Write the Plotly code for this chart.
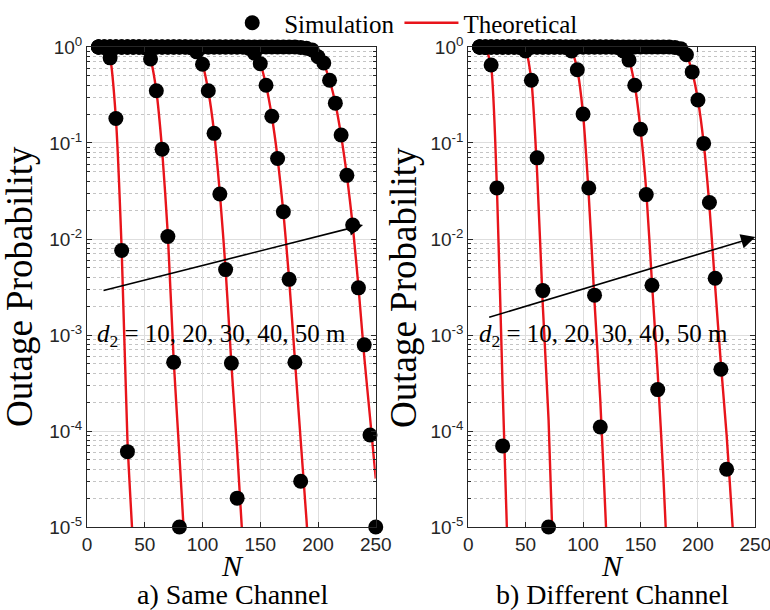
import plotly.graph_objects as go

# ---------------- data: a) Same Channel ----------------
a_sim_N = [
    [10, 15, 20, 25, 30, 35],
    [10, 15, 20, 25, 30, 35, 40, 45, 50, 55, 60, 65, 70, 75, 80],
    [10, 15, 20, 25, 30, 35, 40, 45, 50, 55, 60, 65, 70, 75, 80, 85, 90,
     95, 100, 105, 110, 115, 120, 125, 130],
    [10, 15, 20, 25, 30, 35, 40, 45, 50, 55, 60, 65, 70, 75, 80, 85, 90,
     95, 100, 105, 110, 115, 120, 125, 130, 135, 140,
     145, 150, 155, 160, 165, 170, 175, 180, 185],
    [10, 15, 20, 25, 30, 35, 40, 45, 50, 55, 60, 65, 70, 75, 80, 85, 90,
     95, 100, 105, 110, 115, 120, 125, 130, 135, 140, 145, 150, 155, 160,
     165, 170, 175, 180, 185, 190, 195,
     200, 205, 210, 215, 220, 225, 230, 235, 240, 245, 250],
]
a_sim_P = [
    [1.0, 0.99, 0.77, 0.18, 0.0076, 6.1e-5],
    [1.0, 1.0, 1.0, 1.0, 1.0, 1.0, 1.0, 1.0, 0.98,
     0.75, 0.35, 0.086, 0.0106, 5.2e-4, 1.0e-5],
    [1.0, 1.0, 1.0, 1.0, 1.0, 1.0, 1.0, 1.0, 1.0, 1.0, 1.0, 1.0, 1.0, 1.0,
     1.0, 1.0, 0.98,
     0.89, 0.66, 0.35, 0.126, 0.0294, 0.0048, 5.1e-4, 2.0e-5],
    [1.0, 1.0, 1.0, 1.0, 1.0, 1.0, 1.0, 1.0, 1.0, 1.0, 1.0, 1.0, 1.0, 1.0,
     1.0, 1.0, 1.0, 1.0, 1.0, 1.0, 1.0, 1.0, 1.0, 1.0, 1.0, 1.0, 0.97,
     0.86, 0.67, 0.40, 0.19, 0.069, 0.0192, 0.0038, 5.2e-4, 3.0e-5],
    [1.0, 1.0, 1.0, 1.0, 1.0, 1.0, 1.0, 1.0, 1.0, 1.0, 1.0, 1.0, 1.0, 1.0,
     1.0, 1.0, 1.0, 1.0, 1.0, 1.0, 1.0, 1.0, 1.0, 1.0, 1.0, 1.0, 1.0, 1.0,
     1.0, 1.0, 1.0, 1.0, 1.0, 1.0, 1.0, 0.99, 0.97, 0.93,
     0.79, 0.68, 0.45, 0.26, 0.121, 0.046, 0.014, 0.0031, 7.9e-4, 9.1e-5, 1.0e-5],
]
a_th_N = [
    [10, 15, 20, 25, 30, 35, 40],
    [45, 50, 55, 60, 65, 70, 75, 80, 85],
    [85, 90, 95, 100, 105, 110, 115, 120, 125, 130, 135],
    [135, 140, 145, 150, 155, 160, 165, 170, 175, 180, 185, 190, 195],
    [185, 190, 195, 200, 205, 210, 215, 220, 225, 230, 235, 240, 245, 250],
]
a_th_P = [
    [1.0, 0.99, 0.76, 0.18, 0.0078, 8.0e-5, 6.0e-6],
    [1.0, 0.98, 0.74, 0.35, 0.085, 0.011, 5.6e-4, 5.6e-5, 5.0e-6],
    [1.0, 0.98, 0.88, 0.66, 0.35, 0.13, 0.030, 0.0048, 5.0e-4, 6.3e-5, 6.3e-6],
    [1.0, 0.97, 0.86, 0.67, 0.40, 0.19, 0.070, 0.019, 0.0038, 5.5e-4, 8.0e-5, 1.2e-5, 1.5e-6],
    [0.99, 0.97, 0.94, 0.80, 0.66, 0.45, 0.26, 0.12, 0.046, 0.014, 0.0032, 6.0e-4, 1.4e-4, 3.2e-5],
]

# ---------------- data: b) Different Channel ----------------
b_sim_N = [
    [10, 15, 20, 25, 30],
    [10, 15, 20, 25, 30, 35, 40, 45, 50, 55, 60, 65, 70],
    [10, 15, 20, 25, 30, 35, 40, 45, 50, 55, 60, 65, 70, 75, 80, 85,
     90, 95, 100, 105, 110, 115],
    [10, 15, 20, 25, 30, 35, 40, 45, 50, 55, 60, 65, 70, 75, 80, 85,
     90, 95, 100, 105, 110, 115, 120, 125, 130, 135,
     140, 145, 150, 155, 160, 165],
    [10, 15, 20, 25, 30, 35, 40, 45, 50, 55, 60, 65, 70, 75, 80, 85,
     90, 95, 100, 105, 110, 115, 120, 125, 130, 135, 140, 145, 150, 155,
     160, 165, 170, 175, 180, 185,
     190, 195, 200, 205, 210, 215, 220, 225],
]
b_sim_P = [
    [1.0, 0.99, 0.65, 0.034, 7.0e-5],
    [1.0, 1.0, 1.0, 1.0, 1.0, 1.0, 1.0, 0.99,
     0.91, 0.45, 0.070, 0.0029, 1.0e-5],
    [1.0, 1.0, 1.0, 1.0, 1.0, 1.0, 1.0, 1.0, 1.0, 1.0, 1.0, 1.0, 1.0, 1.0,
     1.0, 0.99,
     0.91, 0.58, 0.20, 0.034, 0.0026, 1.1e-4],
    [1.0, 1.0, 1.0, 1.0, 1.0, 1.0, 1.0, 1.0, 1.0, 1.0, 1.0, 1.0, 1.0, 1.0,
     1.0, 1.0, 1.0, 1.0, 1.0, 1.0, 1.0, 1.0, 1.0, 1.0, 0.99, 0.91,
     0.73, 0.40, 0.139, 0.029, 0.0033, 2.7e-4],
    [1.0, 1.0, 1.0, 1.0, 1.0, 1.0, 1.0, 1.0, 1.0, 1.0, 1.0, 1.0, 1.0, 1.0,
     1.0, 1.0, 1.0, 1.0, 1.0, 1.0, 1.0, 1.0, 1.0, 1.0, 1.0, 1.0, 1.0, 1.0,
     1.0, 1.0, 1.0, 1.0, 1.0, 1.0, 0.99, 0.96,
     0.83, 0.55, 0.28, 0.099, 0.024, 0.0039, 4.4e-4, 4.0e-5],
]
b_th_N = [
    [10, 15, 20, 25, 30, 35],
    [40, 45, 50, 55, 60, 65, 70, 75],
    [80, 85, 90, 95, 100, 105, 110, 115, 120, 125],
    [125, 130, 135, 140, 145, 150, 155, 160, 165, 170, 175],
    [175, 180, 185, 190, 195, 200, 205, 210, 215, 220, 225, 230, 235],
]
b_th_P = [
    [1.0, 0.98, 0.62, 0.035, 2.8e-4, 3.0e-6],
    [1.0, 0.99, 0.92, 0.45, 0.05, 0.002, 1.3e-4, 2.0e-6],
    [1.0, 0.99, 0.92, 0.58, 0.20, 0.028, 0.0022, 2.1e-4, 1.0e-5, 5.0e-7],
    [1.0, 0.99, 0.93, 0.73, 0.40, 0.14, 0.032, 0.0035, 4.0e-4, 3.2e-5, 1.6e-6],
    [1.0, 0.995, 0.97, 0.83, 0.55, 0.28, 0.10, 0.022, 0.0032, 5.0e-4, 9.0e-5, 1.1e-5, 1.2e-6],
]

ytick_vals = [1, 1e-1, 1e-2, 1e-3, 1e-4, 1e-5]
ytick_text = ["10<sup>0</sup>", "10<sup>-1</sup>", "10<sup>-2</sup>",
              "10<sup>-3</sup>", "10<sup>-4</sup>", "10<sup>-5</sup>"]
xtick_vals = [0, 50, 100, 150, 200, 250]

RED = "#e8141b"
SERIF = "Liberation Serif"
SANS = "Liberation Sans"

fig = go.Figure()

panels = [
    ("x", "y", a_sim_N, a_sim_P, a_th_N, a_th_P),
    ("x2", "y2", b_sim_N, b_sim_P, b_th_N, b_th_P),
]
first_line = True
for xa, ya, sN, sP, tN, tP in panels:
    for N, P in zip(tN, tP):
        fig.add_trace(go.Scatter(
            x=N, y=P, mode="lines", xaxis=xa, yaxis=ya,
            line=dict(color=RED, width=2.4, shape="spline", smoothing=0.6),
            name="Theoretical", showlegend=first_line, legendrank=2))
        first_line = False
first_sim = True
for xa, ya, sN, sP, tN, tP in panels:
    for N, P in zip(sN, sP):
        fig.add_trace(go.Scatter(
            x=N, y=P, mode="markers", xaxis=xa, yaxis=ya,
            marker=dict(color="black", size=15, line=dict(width=0)),
            cliponaxis=False,
            name="Simulation", showlegend=first_sim, legendrank=1))
        first_sim = False

axis_common = dict(
    showline=True, linecolor="#262626", linewidth=1, mirror="ticks",
    ticks="inside", ticklen=5, tickcolor="#262626",
    showgrid=True, gridcolor="#dedede", gridwidth=1,
    zeroline=False, automargin=False, ticklabeloverflow="allow",
    tickfont=dict(family=SANS, size=19, color="#262626"),
)
yaxis_common = dict(
    axis_common, type="log", range=[-5, 0],
    tickvals=ytick_vals, ticktext=ytick_text,
    minor=dict(ticks="inside", ticklen=3, tickcolor="#262626",
               dtick="D1", showgrid=True, gridcolor="#c4c4c4",
               griddash="dot", gridwidth=1),
    domain=[0.136, 0.923],
)
xaxis_common = dict(axis_common, range=[0, 250], tickvals=xtick_vals)

fig.update_layout(
    template="none",
    width=770, height=610, autosize=False,
    margin=dict(l=0, r=0, t=0, b=0, pad=0),
    paper_bgcolor="white", plot_bgcolor="white",
    xaxis=dict(xaxis_common, domain=[0.113, 0.488], anchor="y"),
    yaxis=dict(yaxis_common, anchor="x"),
    xaxis2=dict(xaxis_common, domain=[0.608, 0.981], anchor="y2"),
    yaxis2=dict(yaxis_common, anchor="x2"),
    showlegend=True,
    legend=dict(orientation="h", x=0.286, xanchor="left",
                y=1.0, yanchor="top",
                font=dict(family=SERIF, size=25, color="black"),
                bgcolor="rgba(0,0,0,0)", itemwidth=54, tracegroupgap=0),
)

ann = []
for cx, title in [(232, "a) Same Channel"), (612, "b) Different Channel")]:
    ann.append(dict(x=cx / 770, y=1 - 565 / 610, xref="paper", yref="paper",
                    xanchor="center", yanchor="middle",
                    text="<i>N</i>", showarrow=False,
                    font=dict(family=SERIF, size=30, color="black")))
    ann.append(dict(x=cx / 770, y=1 - 594 / 610, xref="paper", yref="paper",
                    xanchor="center", yanchor="middle",
                    text=title, showarrow=False,
                    font=dict(family=SERIF, size=28, color="black")))
for lx in [20, 404]:
    ann.append(dict(x=lx / 770, y=1 - 287 / 610, xref="paper", yref="paper",
                    xanchor="center", yanchor="middle",
                    text="Outage Probability", textangle=-90, showarrow=False,
                    font=dict(family=SERIF, size=37, color="black")))

label_txt = "<i>d</i><sub>2</sub> = 10, 20, 30, 40, 50 m"
ann.append(dict(x=7, y=-3.0, xref="x", yref="y", xanchor="left", yanchor="middle",
                text=label_txt, showarrow=False,
                font=dict(family=SERIF, size=25, color="black")))
ann.append(dict(x=8, y=-3.0, xref="x2", yref="y2", xanchor="left", yanchor="middle",
                text=label_txt, showarrow=False,
                font=dict(family=SERIF, size=25, color="black")))

# arrows (log-axis coordinates)
ann.append(dict(x=239, y=-1.854, ax=13, ay=-2.54, xref="x", yref="y",
                axref="x", ayref="y", text="", showarrow=True,
                arrowhead=2, arrowsize=1.8, arrowwidth=1.6, arrowcolor="black"))
ann.append(dict(x=250, y=-1.98, ax=17, ay=-2.82, xref="x2", yref="y2",
                axref="x2", ayref="y2", text="", showarrow=True,
                arrowhead=2, arrowsize=1.8, arrowwidth=1.6, arrowcolor="black"))
fig.update_layout(annotations=ann)

fig.write_html("out.html")
